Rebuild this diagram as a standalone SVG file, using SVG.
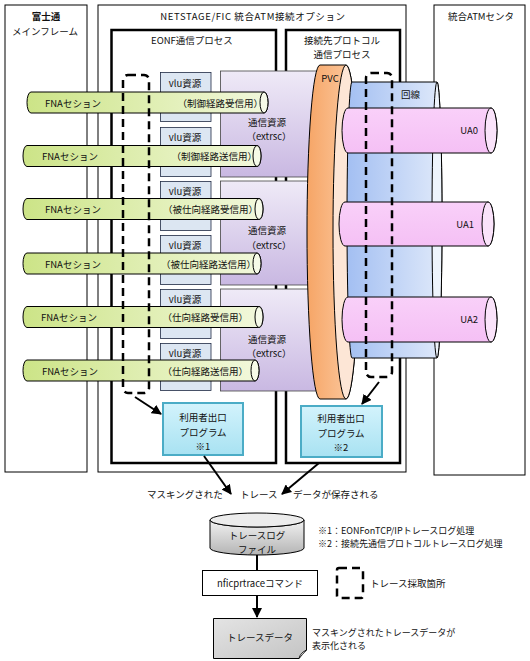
<svg xmlns="http://www.w3.org/2000/svg" width="530" height="661" viewBox="0 0 530 661">
<style>
.t{font-family:"Noto Sans CJK JP","Noto Sans",sans-serif;font-size:9.5px;fill:#111}
.s{font-size:9px}
.m{text-anchor:middle}
.e{text-anchor:end}
.box{fill:none;stroke:#000;stroke-width:1}
.thick{fill:none;stroke:#000;stroke-width:2.5}
.vlu{fill:#dce6f2;stroke:#1f2a44;stroke-width:0.8}
.res{fill:url(#gPurple);stroke:#444;stroke-width:0.8}
.tube{fill:url(#gGreen);stroke:#000;stroke-width:1}
.tface{fill:#f6fae8;stroke:#000;stroke-width:1}
.ua{fill:url(#gPink);stroke:#000;stroke-width:1}
.uaface{fill:#fae3fa;stroke:#000;stroke-width:1}
.dash{fill:none;stroke:#000;stroke-width:2.5;stroke-dasharray:8 5}
.exit{fill:url(#gCyan);stroke:#4bacc6;stroke-width:2}
.arr{fill:none;stroke:#000;stroke-width:2;marker-end:url(#ah)}
</style>
<defs>
<marker id="ah" viewBox="0 0 10 10" refX="9" refY="5" markerWidth="5" markerHeight="5" orient="auto" markerUnits="strokeWidth"><path d="M0,0 L10,5 L0,10 Z" fill="#000"/></marker>
<linearGradient id="gGreen" x1="0" y1="0" x2="1" y2="0"><stop offset="0" stop-color="#cce487"/><stop offset="1" stop-color="#f2f8dc"/></linearGradient>
<linearGradient id="gPurple" x1="0" y1="0" x2="0" y2="1"><stop offset="0" stop-color="#efeaf7"/><stop offset="1" stop-color="#c9b8e2"/></linearGradient>
<linearGradient id="gOrange" x1="0" y1="0" x2="1" y2="0"><stop offset="0" stop-color="#f6a566"/><stop offset="1" stop-color="#fccda6"/></linearGradient>
<linearGradient id="gBlue" x1="0" y1="0" x2="1" y2="0"><stop offset="0" stop-color="#a3bff2"/><stop offset="1" stop-color="#dfe9fa"/></linearGradient>
<linearGradient id="gPink" x1="0" y1="0" x2="0" y2="1"><stop offset="0" stop-color="#f9d0f9"/><stop offset="1" stop-color="#f5c0f5"/></linearGradient>
<linearGradient id="gCyan" x1="0" y1="0" x2="0" y2="1"><stop offset="0" stop-color="#d3f3fc"/><stop offset="1" stop-color="#a8e2f2"/></linearGradient>
<linearGradient id="gGray" x1="0" y1="0" x2="0" y2="1"><stop offset="0" stop-color="#f2f2f2"/><stop offset="1" stop-color="#b4b4b4"/></linearGradient>
<linearGradient id="gDoc" x1="0" y1="0" x2="1" y2="1"><stop offset="0" stop-color="#e4e4e4"/><stop offset="1" stop-color="#c4c4c4"/></linearGradient>
</defs>

<g id="mainframe">
<rect class="box" x="5" y="5" width="82" height="467"/>
<text class="t m" x="46" y="20" font-weight="bold">富士通</text>
<text class="t m" x="45" y="35">メインフレーム</text>
</g>
<g id="netstage">
<rect class="box" x="98" y="5" width="308" height="467"/>
<text class="t m" x="253" y="20" letter-spacing="0.6">NETSTAGE/FIC 統合ATM接続オプション</text>
</g>
<g id="atmcenter">
<rect class="box" x="434" y="5" width="91" height="470"/>
<text class="t m" x="481" y="20">統合ATMセンタ</text>
</g>
<g id="eonf">
<rect class="thick" x="111.5" y="30" width="164.5" height="433"/>
<text class="t m" x="192" y="44">EONF通信プロセス</text>
</g>
<g id="protocol">
<rect class="thick" x="286" y="30" width="114" height="433"/>
<text class="t m" x="342" y="44">接続先プロトコル</text>
<text class="t m" x="342" y="58">通信プロセス</text>
</g>

<g id="vlu">
<rect class="vlu" x="160.5" y="72.5" width="50.5" height="49"/><text class="t m" x="185" y="87">vlu資源</text>
<rect class="vlu" x="160.5" y="127.5" width="50.5" height="49"/><text class="t m" x="185" y="141">vlu資源</text>
<rect class="vlu" x="160.5" y="181.5" width="50.5" height="49"/><text class="t m" x="185" y="195">vlu資源</text>
<rect class="vlu" x="160.5" y="235.5" width="50.5" height="49"/><text class="t m" x="185" y="249">vlu資源</text>
<rect class="vlu" x="160.5" y="289.5" width="50.5" height="49"/><text class="t m" x="185" y="303">vlu資源</text>
<rect class="vlu" x="160.5" y="343.5" width="50.5" height="47"/><text class="t m" x="185" y="357">vlu資源</text>
</g>

<g id="extrsc">
<rect class="res" x="220.5" y="71" width="100" height="106"/>
<text class="t m" x="267" y="126">通信資源</text><text class="t m" x="269" y="140">（extrsc）</text>
<rect class="res" x="220.5" y="181" width="100" height="104"/>
<text class="t m" x="267" y="234">通信資源</text><text class="t m" x="269" y="248.5">（extrsc）</text>
<rect class="res" x="220.5" y="289" width="100" height="102"/>
<text class="t m" x="267" y="343">通信資源</text><text class="t m" x="269" y="357">（extrsc）</text>
</g>

<g id="pvc">
<path d="M320,65 L346,65 A13,167 0 0 1 346,399 L320,399 A13,167 0 0 1 320,65 Z" fill="url(#gOrange)" stroke="#000" stroke-width="1"/>
<ellipse cx="346" cy="232" rx="13" ry="167" fill="#fde6d6" stroke="#000" stroke-width="1"/>
<text class="t m" x="330" y="82">PVC</text>
</g>

<g id="line">
<path d="M352,82 L437,82 A5,138 0 0 1 437,358 L352,358 A5,138 0 0 1 352,82 Z" fill="url(#gBlue)" stroke="#000" stroke-width="1"/>
<ellipse cx="437" cy="220" rx="5" ry="138" fill="#eef4fc" stroke="#000" stroke-width="1"/>
<text class="t" x="401" y="98">回線</text>
</g>

<g id="ua0">
<path d="M348,108 L491,108 A6,22.5 0 0 1 491,153 L348,153 A6,22.5 0 0 1 348,108 Z" class="ua"/>
<ellipse class="uaface" cx="491" cy="130.5" rx="6" ry="22.5"/>
<text class="t e" x="478" y="134">UA0</text>
</g>
<g id="ua1">
<path d="M345,202 L488,202 A6,22 0 0 1 488,246 L345,246 A6,22 0 0 1 345,202 Z" class="ua"/>
<ellipse class="uaface" cx="488" cy="224" rx="6" ry="22"/>
<text class="t e" x="474" y="228">UA1</text>
</g>
<g id="ua2">
<path d="M348,297 L491,297 A6,22.5 0 0 1 491,342 L348,342 A6,22.5 0 0 1 348,297 Z" class="ua"/>
<ellipse class="uaface" cx="491" cy="319.5" rx="6" ry="22.5"/>
<text class="t e" x="478" y="323">UA2</text>
</g>

<g id="fna1">
<path class="tube" d="M31,92 H264 A4,10.5 0 0 1 264,113 H31 A4,10.5 0 0 1 31,92 Z"/>
<ellipse class="tface" cx="264" cy="102.5" rx="4" ry="10.5"/>
<text class="t" x="45" y="106.5">FNAセション</text><text class="t e" x="263" y="106.5">（制御経路受信用）</text>
</g>
<g id="fna2">
<path class="tube" d="M27,145.5 H257 A4,10.5 0 0 1 257,166.5 H27 A4,10.5 0 0 1 27,145.5 Z"/>
<ellipse class="tface" cx="257" cy="156" rx="4" ry="10.5"/>
<text class="t" x="42" y="160">FNAセション</text><text class="t e" x="257" y="160">（制御経路送信用）</text>
</g>
<g id="fna3">
<path class="tube" d="M27,198.5 H259 A4,10.5 0 0 1 259,219.5 H27 A4,10.5 0 0 1 27,198.5 Z"/>
<ellipse class="tface" cx="259" cy="209" rx="4" ry="10.5"/>
<text class="t" x="45" y="213">FNAセション</text><text class="t e" x="258" y="213">（被仕向経路受信用）</text>
</g>
<g id="fna4">
<path class="tube" d="M27,253 H257 A4,10.5 0 0 1 257,274 H27 A4,10.5 0 0 1 27,253 Z"/>
<ellipse class="tface" cx="257" cy="263.5" rx="4" ry="10.5"/>
<text class="t" x="45" y="267.5">FNAセション</text><text class="t e" x="256" y="267.5">（被仕向経路送信用）</text>
</g>
<g id="fna5">
<path class="tube" d="M27,306.5 H259 A4,10.5 0 0 1 259,327.5 H27 A4,10.5 0 0 1 27,306.5 Z"/>
<ellipse class="tface" cx="259" cy="317" rx="4" ry="10.5"/>
<text class="t" x="41" y="321">FNAセション</text><text class="t e" x="248" y="321">（仕向経路受信用）</text>
</g>
<g id="fna6">
<path class="tube" d="M27,360 H255 A4,10.5 0 0 1 255,381 H27 A4,10.5 0 0 1 27,360 Z"/>
<ellipse class="tface" cx="255" cy="370.5" rx="4" ry="10.5"/>
<text class="t" x="42" y="374.5">FNAセション</text><text class="t e" x="248" y="374.5">（仕向経路送信用）</text>
</g>

<g id="trace-points">
<rect class="dash" x="123" y="75" width="26" height="318" rx="5"/>
<rect class="dash" x="366" y="73" width="26" height="304" rx="5"/>
</g>

<g id="exit1">
<rect class="exit" x="163" y="403" width="80" height="52"/>
<text class="t m" x="203" y="421">利用者出口</text>
<text class="t m" x="203" y="436">プログラム</text>
<text class="t m" x="203" y="450">※1</text>
</g>
<g id="exit2">
<rect class="exit" x="301" y="406" width="81" height="51"/>
<text class="t m" x="341" y="422">利用者出口</text>
<text class="t m" x="341" y="437">プログラム</text>
<text class="t m" x="341" y="451">※2</text>
</g>

<g id="save-label">
<text class="t" x="147" y="498">マスキングされた</text>
<text class="t" x="240" y="498">トレース</text>
<text class="t" x="293" y="498">データが保存される</text>
</g>

<g id="logfile">
<path d="M210,520 A47,7 0 0 0 304,520 V548 A47,7 0 0 1 210,548 Z" fill="url(#gGray)" stroke="#000" stroke-width="1"/>
<ellipse cx="257" cy="520" rx="47" ry="7" fill="#ececec" stroke="#000" stroke-width="1"/>
<text class="t m" x="257" y="539">トレースログ</text>
<text class="t m" x="257" y="553">ファイル</text>
</g>

<g id="command">
<rect x="202.5" y="570.5" width="115" height="25" fill="#fff" stroke="#000" stroke-width="1"/>
<text class="t m" x="260" y="586.5">nficprtraceコマンド</text>
</g>

<g id="tracedata">
<path d="M213.5,618.5 H306.5 V650 Q302,652 299,658.5 H213.5 Z" fill="url(#gDoc)" stroke="#000" stroke-width="1"/>
<path d="M299,658.5 Q300,653 306.5,650 Q302,655 299,658.5 Z" fill="#f4f4f4" stroke="#000" stroke-width="0.8"/>
<text class="t m" x="260" y="641">トレースデータ</text>
</g>
<text class="t s" x="312" y="636">マスキングされたトレースデータが</text>
<text class="t s" x="312" y="649.3">表示化される</text>

<g id="legend">
<text class="t s" x="318" y="534">※1：EONFonTCP/IPトレースログ処理</text>
<text class="t s" x="318" y="547.3">※2：接続先通信プロトコルトレースログ処理</text>
<rect class="dash" x="337" y="568" width="26" height="30" rx="2"/>
<text class="t" x="370" y="587">トレース採取箇所</text>
</g>

<g id="connectors">
<line class="arr" x1="135" y1="397" x2="161" y2="414"/>
<line class="arr" x1="379" y1="382" x2="362" y2="404"/>
<line class="arr" x1="204" y1="456" x2="231" y2="494"/>
<line class="arr" x1="319" y1="463" x2="282" y2="494"/>
<line x1="257" y1="555" x2="257" y2="570" stroke="#000" stroke-width="2"/>
<line class="arr" x1="257" y1="596" x2="257" y2="617"/>
</g>
</svg>
